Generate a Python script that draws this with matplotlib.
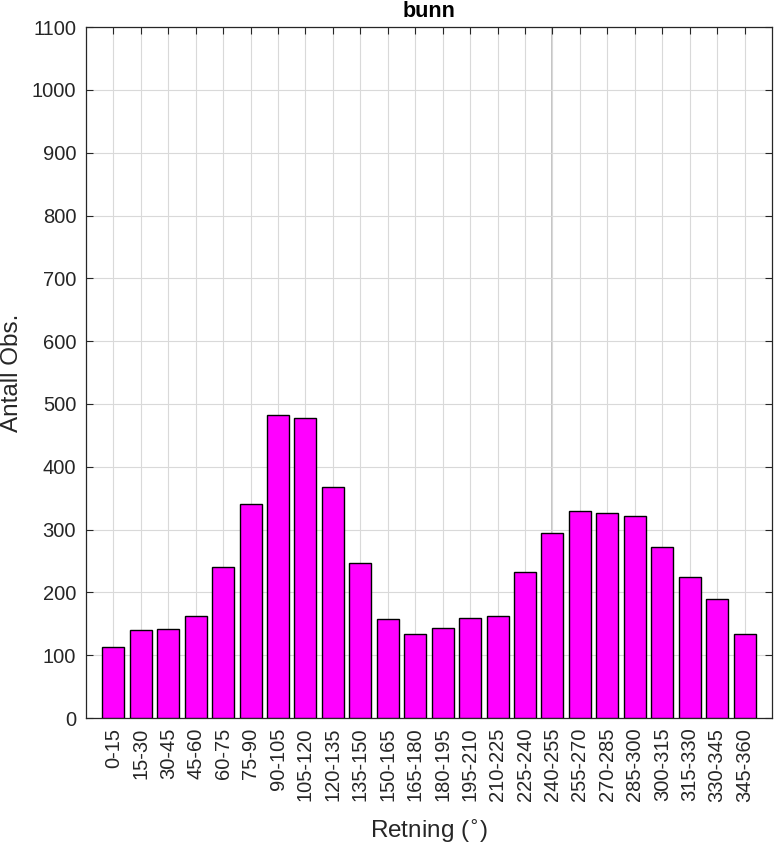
import numpy as np
import matplotlib.pyplot as plt

plt.rcParams['font.family'] = ['Liberation Sans', 'DejaVu Sans']

labels = ['0-15', '15-30', '30-45', '45-60', '60-75', '75-90', '90-105',
          '105-120', '120-135', '135-150', '150-165', '165-180', '180-195',
          '195-210', '210-225', '225-240', '240-255', '255-270', '270-285',
          '285-300', '300-315', '315-330', '330-345', '345-360']
counts = [113, 140, 141, 162, 240, 341, 483, 478, 368, 246, 158, 133,
          143, 160, 163, 233, 294, 329, 327, 322, 272, 224, 190, 133]

x = np.arange(1, len(labels) + 1)

fig = plt.figure(figsize=(7.74, 8.46), dpi=100)
ax = fig.add_axes([0.111, 0.1513, 0.8864, 0.8167])

ax.bar(x, counts, 0.8, color='#ff00ff', edgecolor='black', linewidth=1.0,
       zorder=3)

ax.set_xlim(0, len(labels) + 1)
ax.set_ylim(0, 1100)
ax.set_xticks(x)
ax.set_xticklabels(labels, rotation=90)
ax.set_yticks(np.arange(0, 1101, 100))
ax.tick_params(axis='both', direction='in', top=True, right=True,
               labelsize=14.5, length=5, width=0.8, colors='#262626',
               labelcolor='#262626', pad=7)
ax.grid(True, color='#d9d9d9', lw=0.8, zorder=0)
# slightly darker grid line seen in the original at 240-255
ax.axvline(17, color='#c4c4c4', lw=1.4, zorder=1)
for s in ax.spines.values():
    s.set_linewidth(0.9)
    s.set_color('#262626')

ax.set_title('bunn', fontsize=15.5, fontweight='bold', pad=7)
ax.set_ylabel('Antall Obs.', fontsize=17.5, color='#262626', labelpad=6)
ax.set_xlabel(r'Retning ($^{\circ}$)', fontsize=17.5, color='#262626',
              labelpad=12)

fig.savefig('out.png', dpi=100)
